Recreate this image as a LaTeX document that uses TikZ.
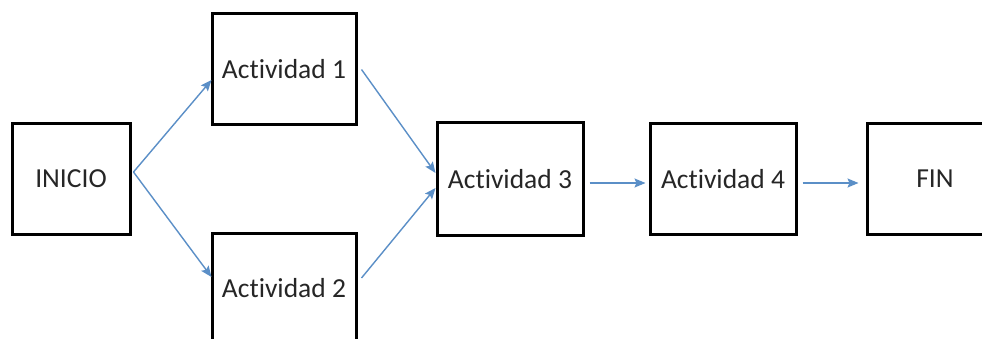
\documentclass[tikz,border=0pt]{standalone}
\usepackage{fontspec}
\setmainfont{Carlito}[Ligatures=NoCommon]
\usetikzlibrary{arrows.meta}
\definecolor{flowblue}{HTML}{5B8FC7}
\definecolor{labelgray}{HTML}{262626}
\tikzset{
  stepbox/.style={draw=black, line width=3pt, fill=white, inner sep=0pt,
    font=\fontsize{27.5}{30}\selectfont, text=labelgray},
  flow/.style={draw=flowblue, line width=1.4pt,
    -{Stealth[length=11pt, width=9pt, inset=2pt]}}
}
\begin{document}
\begin{tikzpicture}[x=1pt, y=-1pt]
  \useasboundingbox (0,0) rectangle (982,339);
  \fill[white] (0,0) rectangle (982,339);
  \begin{scope}
  \clip (0,0) rectangle (982,339);

  % activity boxes
  \node[stepbox, minimum width=118pt, minimum height=110pt] (ini) at (71,179) {INICIO};
  \node[stepbox, minimum width=144pt, minimum height=111pt] (a1) at (284,69.5) {Actividad 1};
  \node[stepbox, minimum width=144pt, minimum height=111pt] (a2) at (284,288.5) {Actividad 2};
  \node[stepbox, minimum width=146pt, minimum height=112pt] (a3) at (510,179) {Actividad 3};
  \node[stepbox, minimum width=146pt, minimum height=111pt] (a4) at (723,179) {Actividad 4};
  \node[stepbox, minimum width=136pt, minimum height=111pt] (fin) at (935,179) {FIN};

  % precedence arrows
  \draw[flow] ([xshift=2pt,yshift=7pt]ini.east) -- ([xshift=1pt,yshift=-10.5pt]a1.west);
  \draw[flow] ([xshift=2pt,yshift=7pt]ini.east) -- ([xshift=1pt,yshift=11.5pt]a2.west);
  \draw[flow] ([xshift=4pt]a1.east) -- ([yshift=6pt]a3.west);
  \draw[flow] ([xshift=4pt,yshift=10.5pt]a2.east) -- ([yshift=-9pt]a3.west);
  \draw[flow] ([xshift=5pt,yshift=-4pt]a3.east) -- ([xshift=-3pt,yshift=-4pt]a4.west);
  \draw[flow] ([xshift=5pt,yshift=-4pt]a4.east) -- ([xshift=-7pt,yshift=-4pt]fin.west);
  \end{scope}
\end{tikzpicture}
\end{document}
